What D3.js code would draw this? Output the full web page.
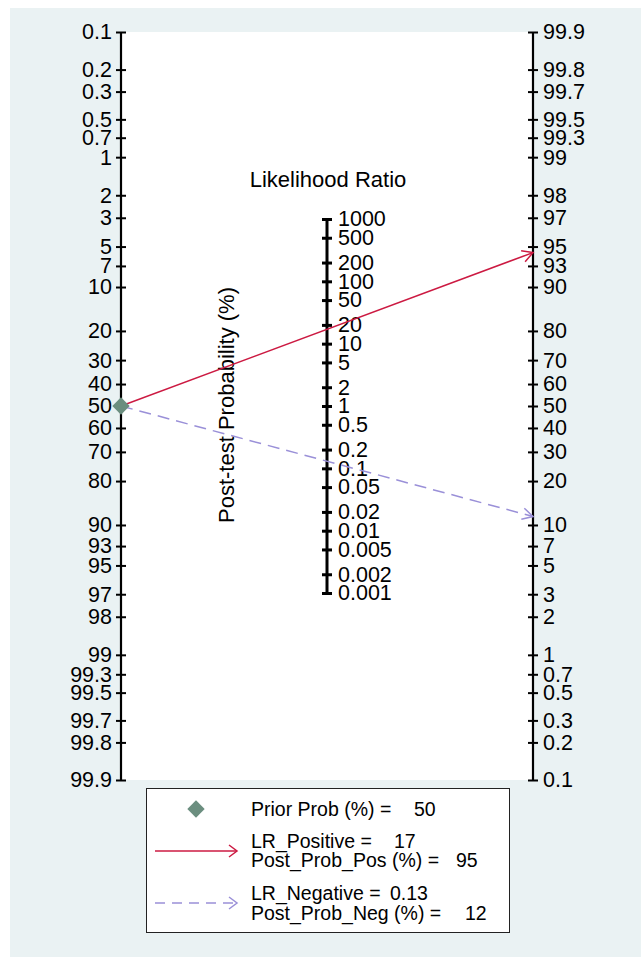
<!DOCTYPE html>
<html><head><meta charset="utf-8">
<script src="https://cdn.jsdelivr.net/npm/d3@7"></script>
<style>
body{margin:0;background:#fff;}
svg text{font-family:"Liberation Sans",Arial,sans-serif;fill:#000;}
</style></head>
<body><svg id="c" width="641" height="957"></svg>
<script>
// ---- data ----
const probTicks = [0.1,0.2,0.3,0.5,0.7,1,2,3,5,7,10,20,30,40,50,60,70,80,90,93,95,97,98,99,99.3,99.5,99.7,99.8,99.9];
const lrTicks = [1000,500,200,100,50,20,10,5,2,1,0.5,0.2,0.1,0.05,0.02,0.01,0.005,0.002,0.001];
const priorProb = 50;
const lrPositive = 17;
const lrNegative = 0.13;
const postProbPos = 95;
const postProbNeg = 12;

const svg = d3.select("#c");
const logit = p => Math.log((p/100)/(1-p/100));
const postOf = (pre, lr) => { const o = (pre/100)/(1-pre/100)*lr; return 100*o/(1+o); };

const xL = 121, xR = 533, xM = (xL+xR)/2, yTop = 32, yBot = 780;
// background
svg.append("rect").attr("x",10).attr("y",8).attr("width",631).attr("height",949).attr("fill","#eaf2f3");
svg.append("rect").attr("x",xL).attr("y",yTop).attr("width",xR-xL).attr("height",yBot-yTop).attr("fill","#fff");

const yLeft = d3.scaleLinear().domain([logit(0.1), logit(99.9)]).range([yTop, yBot]);
const yRight = d3.scaleLinear().domain([logit(99.9), logit(0.1)]).range([yTop, yBot]);
const yL = p => yLeft(logit(p));
const yRp = p => yRight(logit(p));
const midY = lr => (yL(priorProb) + yRp(postOf(priorProb, lr)))/2;
const yLR = d3.scaleLog().domain([0.001, 1000]).range([midY(0.001), midY(1000)]);

const fmt = d => String(d);
const TF = 21.5;
const gL = svg.append("g").attr("transform",`translate(${xL},0)`)
  .call(d3.axisLeft(yLeft).tickValues(probTicks.map(logit)).tickFormat((d,i)=>fmt(probTicks[i])).tickSize(5).tickPadding(4));
const gR = svg.append("g").attr("transform",`translate(${xR},0)`)
  .call(d3.axisRight(yRight).tickValues(probTicks.map(logit)).tickFormat((d,i)=>fmt(probTicks[i])).tickSize(5).tickPadding(5));
const gM = svg.append("g").attr("transform",`translate(${xM},0)`)
  .call(d3.axisRight(yLR).tickValues(lrTicks).tickFormat(fmt).tickSize(5).tickPadding(6));

[gL,gR,gM].forEach(g=>g.attr("font-size",TF).attr("font-family","Liberation Sans, Arial, sans-serif"));
[gL,gR].forEach(g=>{
  g.select(".domain").attr("stroke","#000").attr("stroke-width",2.2).attr("d",`M0,${yTop}V${yBot}`);
  g.selectAll(".tick line").attr("x1",-5).attr("x2",5).attr("stroke","#000").attr("stroke-width",2);
  g.selectAll(".tick text").attr("fill","#000");
});
gM.select(".domain").attr("stroke","#000").attr("stroke-width",3).attr("d",`M0,${yLR(1000)}V${yLR(0.001)}`);
gM.selectAll(".tick line").attr("x1",-5).attr("x2",5).attr("stroke","#000").attr("stroke-width",3);
gM.selectAll(".tick text").attr("fill","#000");

// titles
svg.append("text").attr("x",328).attr("y",187).attr("text-anchor","middle").attr("font-size",22).text("Likelihood Ratio");
svg.append("text").attr("transform",`translate(234,405) rotate(-90)`).attr("text-anchor","middle").attr("font-size",22).text("Post-test Probability (%)");

// arrows
const posCol = "#cc1a42", negCol = "#9a90d8", diaCol = "#6b8e7f";
function arrow(x1,y1,x2,y2,col,dash){
  svg.append("line").attr("x1",x1).attr("y1",y1).attr("x2",x2).attr("y2",y2)
    .attr("stroke",col).attr("stroke-width",1.5).attr("stroke-dasharray",dash||null);
  const a = Math.atan2(y2-y1,x2-x1), L=12, w=0.5;
  const p1=[x2-L*Math.cos(a-w), y2-L*Math.sin(a-w)], p2=[x2-L*Math.cos(a+w), y2-L*Math.sin(a+w)];
  svg.append("path").attr("d",`M${p1}L${x2},${y2}L${p2}`).attr("fill","none").attr("stroke",col).attr("stroke-width",1.5);
}
arrow(xL, yL(priorProb), xR, yRp(postOf(priorProb,lrPositive)), posCol);
arrow(xL, yL(priorProb), xR, yRp(postOf(priorProb,lrNegative)), negCol, "12,7");
const dia = d3.symbol().type(d3.symbolSquare).size(150)();
svg.append("path").attr("d",dia).attr("transform",`translate(${xL},${yL(priorProb)}) rotate(45)`).attr("fill",diaCol);

// legend
svg.append("rect").attr("x",146.5).attr("y",788.5).attr("width",363).attr("height",144).attr("fill","#fff").attr("stroke","#222").attr("stroke-width",1);
svg.append("path").attr("d",dia).attr("transform",`translate(196,809) rotate(45)`).attr("fill",diaCol);
function legArrow(y,col,dash){
  svg.append("line").attr("x1",155).attr("x2",237).attr("y1",y).attr("y2",y).attr("stroke",col).attr("stroke-width",1.5).attr("stroke-dasharray",dash||null);
  svg.append("path").attr("d",`M229,${y-6}L237,${y}L229,${y+6}`).attr("fill","none").attr("stroke",col).attr("stroke-width",1.5);
}
legArrow(851,posCol);
legArrow(903,negCol,"10,7");
const leg = [
  ["Prior Prob (%) =", priorProb, 816, 414],
  ["LR_Positive =", lrPositive, 848, 394],
  ["Post_Prob_Pos (%) =", postProbPos, 867, 456],
  ["LR_Negative =", lrNegative, 900, 390],
  ["Post_Prob_Neg (%) =", postProbNeg, 920, 465]
];
leg.forEach(([t,v,y,xv])=>{
  svg.append("text").attr("x",251).attr("y",y).attr("font-size",19.5).text(t);
  svg.append("text").attr("x",xv).attr("y",y).attr("font-size",19.5).text(String(v));
});
</script></body></html>
